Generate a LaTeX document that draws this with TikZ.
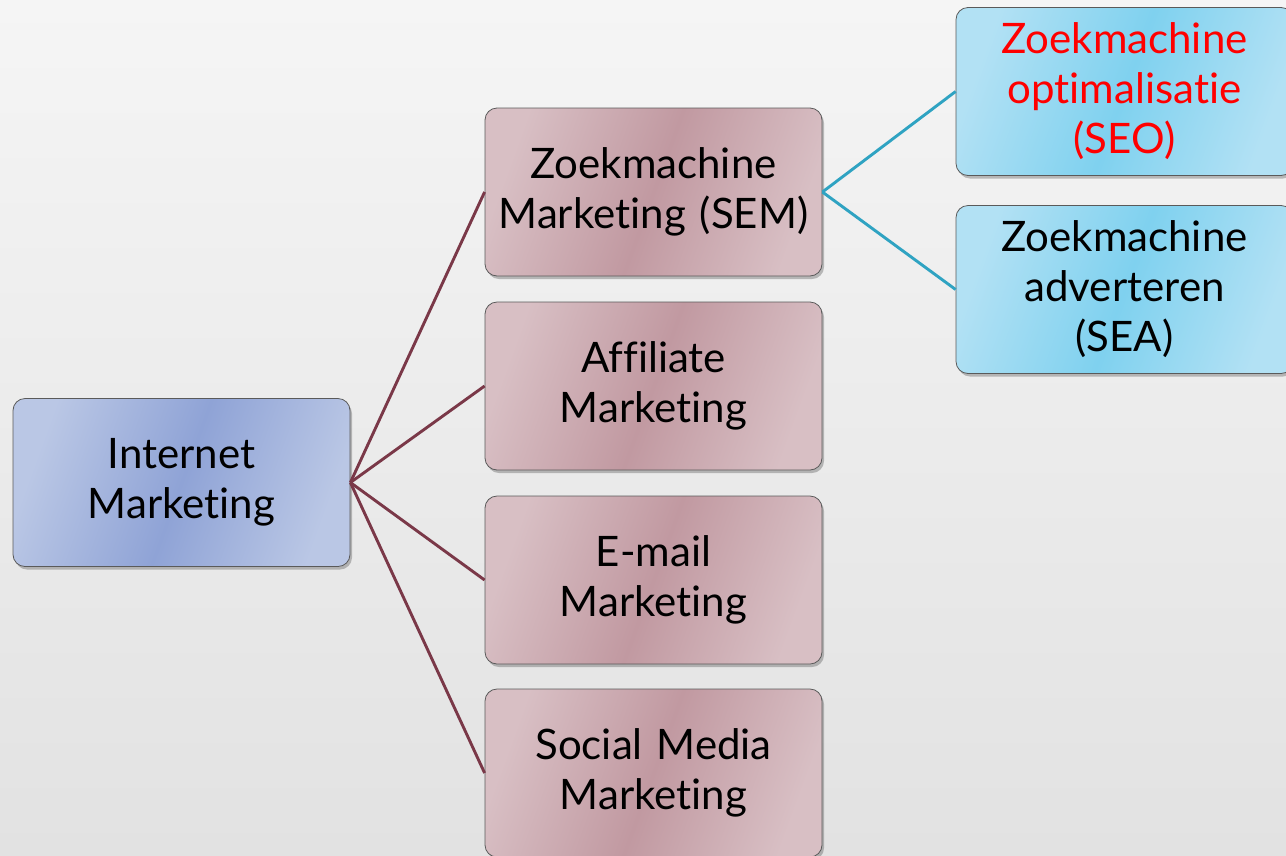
\documentclass[tikz,border=0pt]{standalone}
\usepackage{fontspec}
\setmainfont{Lato}[Ligatures={NoCommon}]
\usetikzlibrary{shadows}
\definecolor{bgtop}{HTML}{F5F5F5}
\definecolor{bgbot}{HTML}{E2E2E2}
\definecolor{blueA}{HTML}{BAC7E5}
\definecolor{blueB}{HTML}{8FA3D6}
\definecolor{rosA}{HTML}{D8BFC4}
\definecolor{rosB}{HTML}{C199A1}
\definecolor{cyanA}{HTML}{B2E1F4}
\definecolor{cyanB}{HTML}{7FD1EF}
\definecolor{maroonline}{HTML}{7A3848}
\definecolor{cyanline}{HTML}{2FA3C2}
\definecolor{boxborder}{HTML}{5A5A5A}
\tikzset{
  box/.style={draw=boxborder, line width=0.8pt, rounded corners=12pt,
    minimum width=337pt, minimum height=168pt, inner sep=0pt,
    align=center, text width=334pt,
    font=\fontsize{42}{50}\selectfont,
    drop shadow={shadow xshift=2pt, shadow yshift=-3pt, opacity=0.35, fill=black!70}},
  rootbox/.style={box, left color=blueA, right color=blueA, middle color=blueB, shading angle=70},
  midbox/.style={box, left color=rosA, right color=rosA, middle color=rosB, shading angle=70},
  leafbox/.style={box, left color=cyanA, right color=cyanA, middle color=cyanB, shading angle=70},
  mline/.style={draw=maroonline, line width=2.9pt},
  cline/.style={draw=cyanline, line width=2.9pt}
}
\begin{document}
\begin{tikzpicture}[x=1pt,y=-1pt]
\shade[top color=bgtop, bottom color=bgbot] (0,0) rectangle (1286,855);
\useasboundingbox (0,0) rectangle (1286,855);
\node[rootbox] (im) at (181.5,482.5) {Internet\\Marketing};
\node[midbox] (sem) at (653.5,192) {Zoekmachine\\Marketing (SEM)};
\node[midbox] (aff) at (653.5,386) {Affiliate\\Marketing};
\node[midbox] (mail) at (653.5,580) {E-mail\\Marketing};
\node[midbox] (smm) at (653.5,773) {Social Media\\Marketing};
\node[leafbox, text=red] (seo) at (1124.5,91.5) {Zoekmachine\\optimalisatie\\(SEO)};
\node[leafbox] (sea) at (1124.5,289.5) {Zoekmachine\\adverteren\\(SEA)};
\draw[mline] (im.east) -- (sem.west);
\draw[mline] (im.east) -- (aff.west);
\draw[mline] (im.east) -- (mail.west);
\draw[mline] (im.east) -- (smm.west);
\draw[cline] (sem.east) -- (seo.west);
\draw[cline] (sem.east) -- (sea.west);
\end{tikzpicture}
\end{document}
